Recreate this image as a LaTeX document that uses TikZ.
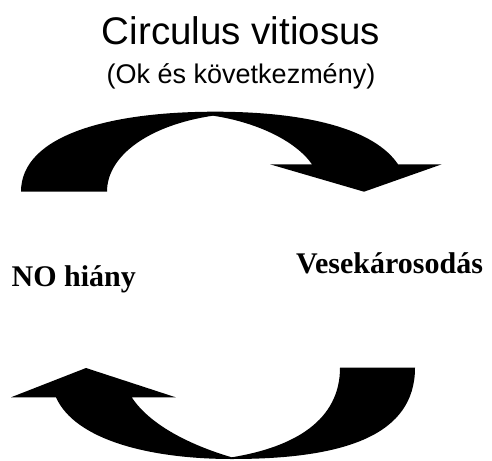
\documentclass[tikz,border=0pt]{standalone}
\usepackage{fontspec}
\setmainfont{Liberation Serif}
\newfontfamily\arialfont{Liberation Sans}
\begin{document}
\begin{tikzpicture}[x=1pt,y=-1pt,
  arrowshape/.style={fill=black,draw=none},
  titletext/.style={inner sep=0pt,anchor=base,font=\arialfont\fontsize{38.5}{40}\selectfont},
  subtext/.style={inner sep=0pt,anchor=base,font=\arialfont\fontsize{27}{29}\selectfont},
  labeltext/.style={inner sep=0pt,anchor=base west,font=\bfseries\fontsize{30}{32}\selectfont}]
\useasboundingbox (0,0) rectangle (492,460);
\node[titletext] (title) at (241,45) {Circulus vitiosus};
\node[subtext] (sub) at (241,83.5) {(Ok és következmény)};
\node[labeltext] (no) at (11.5,286) {NO hiány};
\node[labeltext] (vese) at (296,273.3) {Vesekárosodás};
% top curved arrow
\fill[arrowshape] (21,191.7) .. controls (21,135) and (110,111.7) .. (215,111.7)
  .. controls (310,111.7) and (375,130) .. (398,164.3)
  -- (441.7,164.3) -- (364,191.7) -- (270,164.3) -- (312,164.3)
  .. controls (295,140) and (255,122) .. (213,115.7)
  .. controls (150,125) and (107,155) .. (107,191.7) -- cycle;
% bottom curved arrow
\fill[arrowshape] (415,367.7) .. controls (415,435) and (345,459) .. (232,459)
  .. controls (150,459) and (75,440) .. (56,397.3)
  -- (11,397.3) -- (86,368) -- (175.7,397.3) -- (131.7,397.3)
  .. controls (150,425) and (190,445) .. (231.7,457.3)
  .. controls (295,447) and (340,420) .. (340,367.7) -- cycle;
\end{tikzpicture}
\end{document}
